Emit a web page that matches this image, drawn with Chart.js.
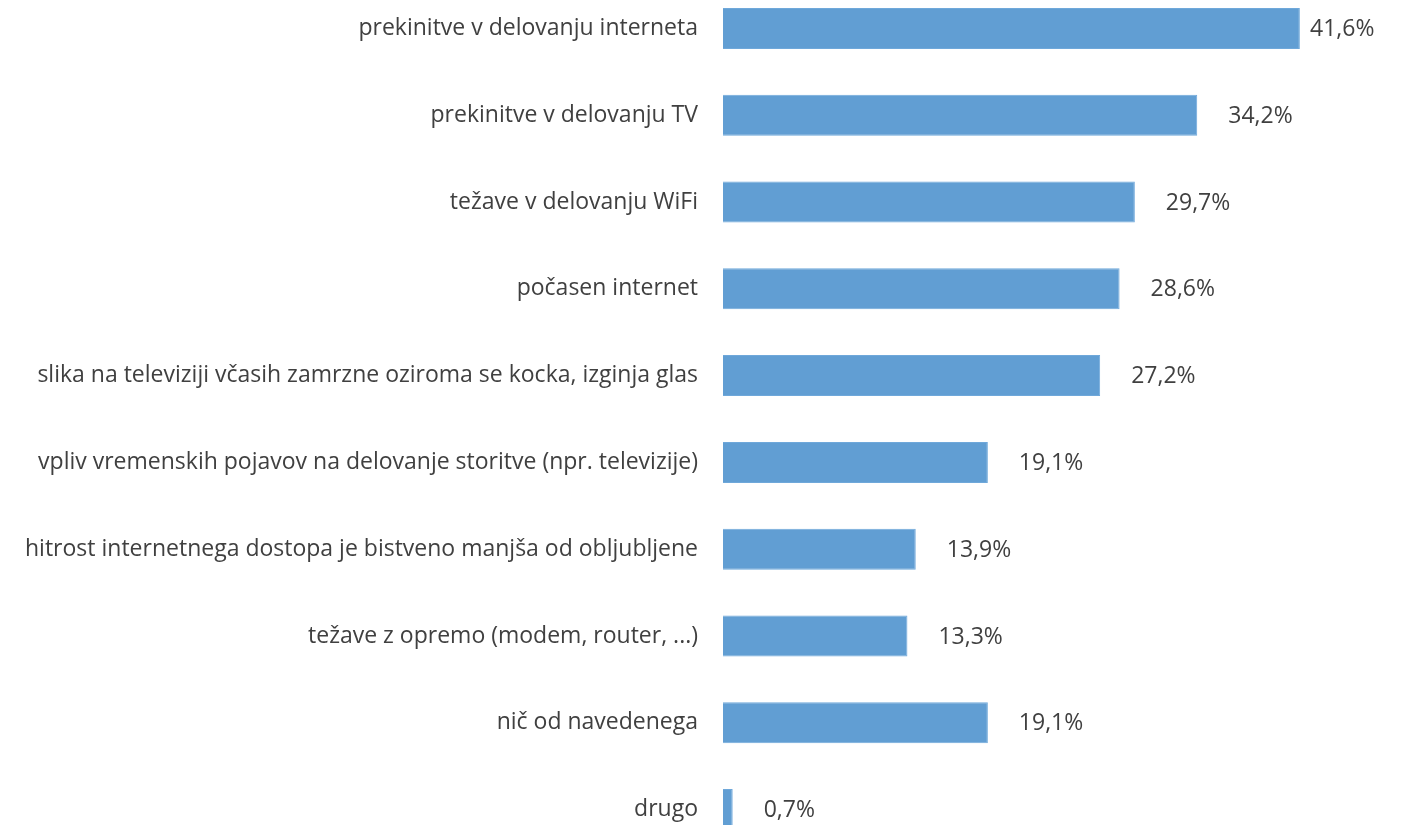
<!DOCTYPE html>
<html>
<head>
<meta charset="utf-8">
<script src="https://cdn.jsdelivr.net/npm/chart.js@4"></script>
<style>
  html, body { margin: 0; padding: 0; background: #fff; overflow: hidden; width: 1402px; height: 825px; }
  #c { position: absolute; left: 0; top: -15px; }
</style>
</head>
<body>
<canvas id="c" width="1402" height="868"></canvas>
<script>
const categories = [
  "prekinitve v delovanju interneta",
  "prekinitve v delovanju TV",
  "težave v delovanju WiFi",
  "počasen internet",
  "slika na televiziji včasih zamrzne oziroma se kocka, izginja glas",
  "vpliv vremenskih pojavov na delovanje storitve (npr. televizije)",
  "hitrost internetnega dostopa je bistveno manjša od obljubljene",
  "težave z opremo (modem, router, ...)",
  "nič od navedenega",
  "drugo"
];
const values = [41.6, 34.2, 29.7, 28.6, 27.2, 19.1, 13.9, 13.3, 19.1, 0.7];

const FONT = "'Open Sans', sans-serif";
const TEXT = "#404040";
const FS = 23;
const fmt = v => v.toFixed(1).replace('.', ',') + '%';

const labelPlugin = {
  id: 'valueLabels',
  afterDatasetsDraw(chart) {
    const ctx = chart.ctx;
    const meta = chart.getDatasetMeta(0);
    ctx.save();
    ctx.font = FS + "px " + FONT;
    ctx.fillStyle = TEXT;
    ctx.textBaseline = 'middle';
    ctx.textAlign = 'left';
    meta.data.forEach((bar, i) => {
      const t = fmt(values[i]);
      const x = Math.min(bar.x + 31, chart.chartArea.right - 37);
      ctx.fillText(t, x, bar.y + 1);
    });
    ctx.restore();
  }
};

const chart = new Chart(document.getElementById('c'), {
  type: 'bar',
  data: {
    labels: categories,
    datasets: [{
      data: values,
      backgroundColor: '#619ED3',
      borderColor: '#6FA8DA',
      borderWidth: 1,
      categoryPercentage: 1.0,
      barPercentage: 0.472
    }]
  },
  options: {
    indexAxis: 'y',
    responsive: false,
    animation: false,
    layout: { autoPadding: false, padding: { left: 0, right: 55, top: 0, bottom: 0 } },
    plugins: { legend: { display: false }, tooltip: { enabled: false } },
    scales: {
      x: {
        display: false,
        min: 0,
        max: 45
      },
      y: {
        grid: { display: false, drawTicks: false },
        border: { display: false },
        ticks: {
          padding: 25,
          color: TEXT,
          font: { family: FONT, size: FS }
        },
        afterFit(scale) {
          scale.width = 723;
          scale.paddingTop = 0;
          scale.paddingBottom = 0;
        }
      }
    }
  },
  plugins: [labelPlugin]
});
</script>
</body>
</html>
